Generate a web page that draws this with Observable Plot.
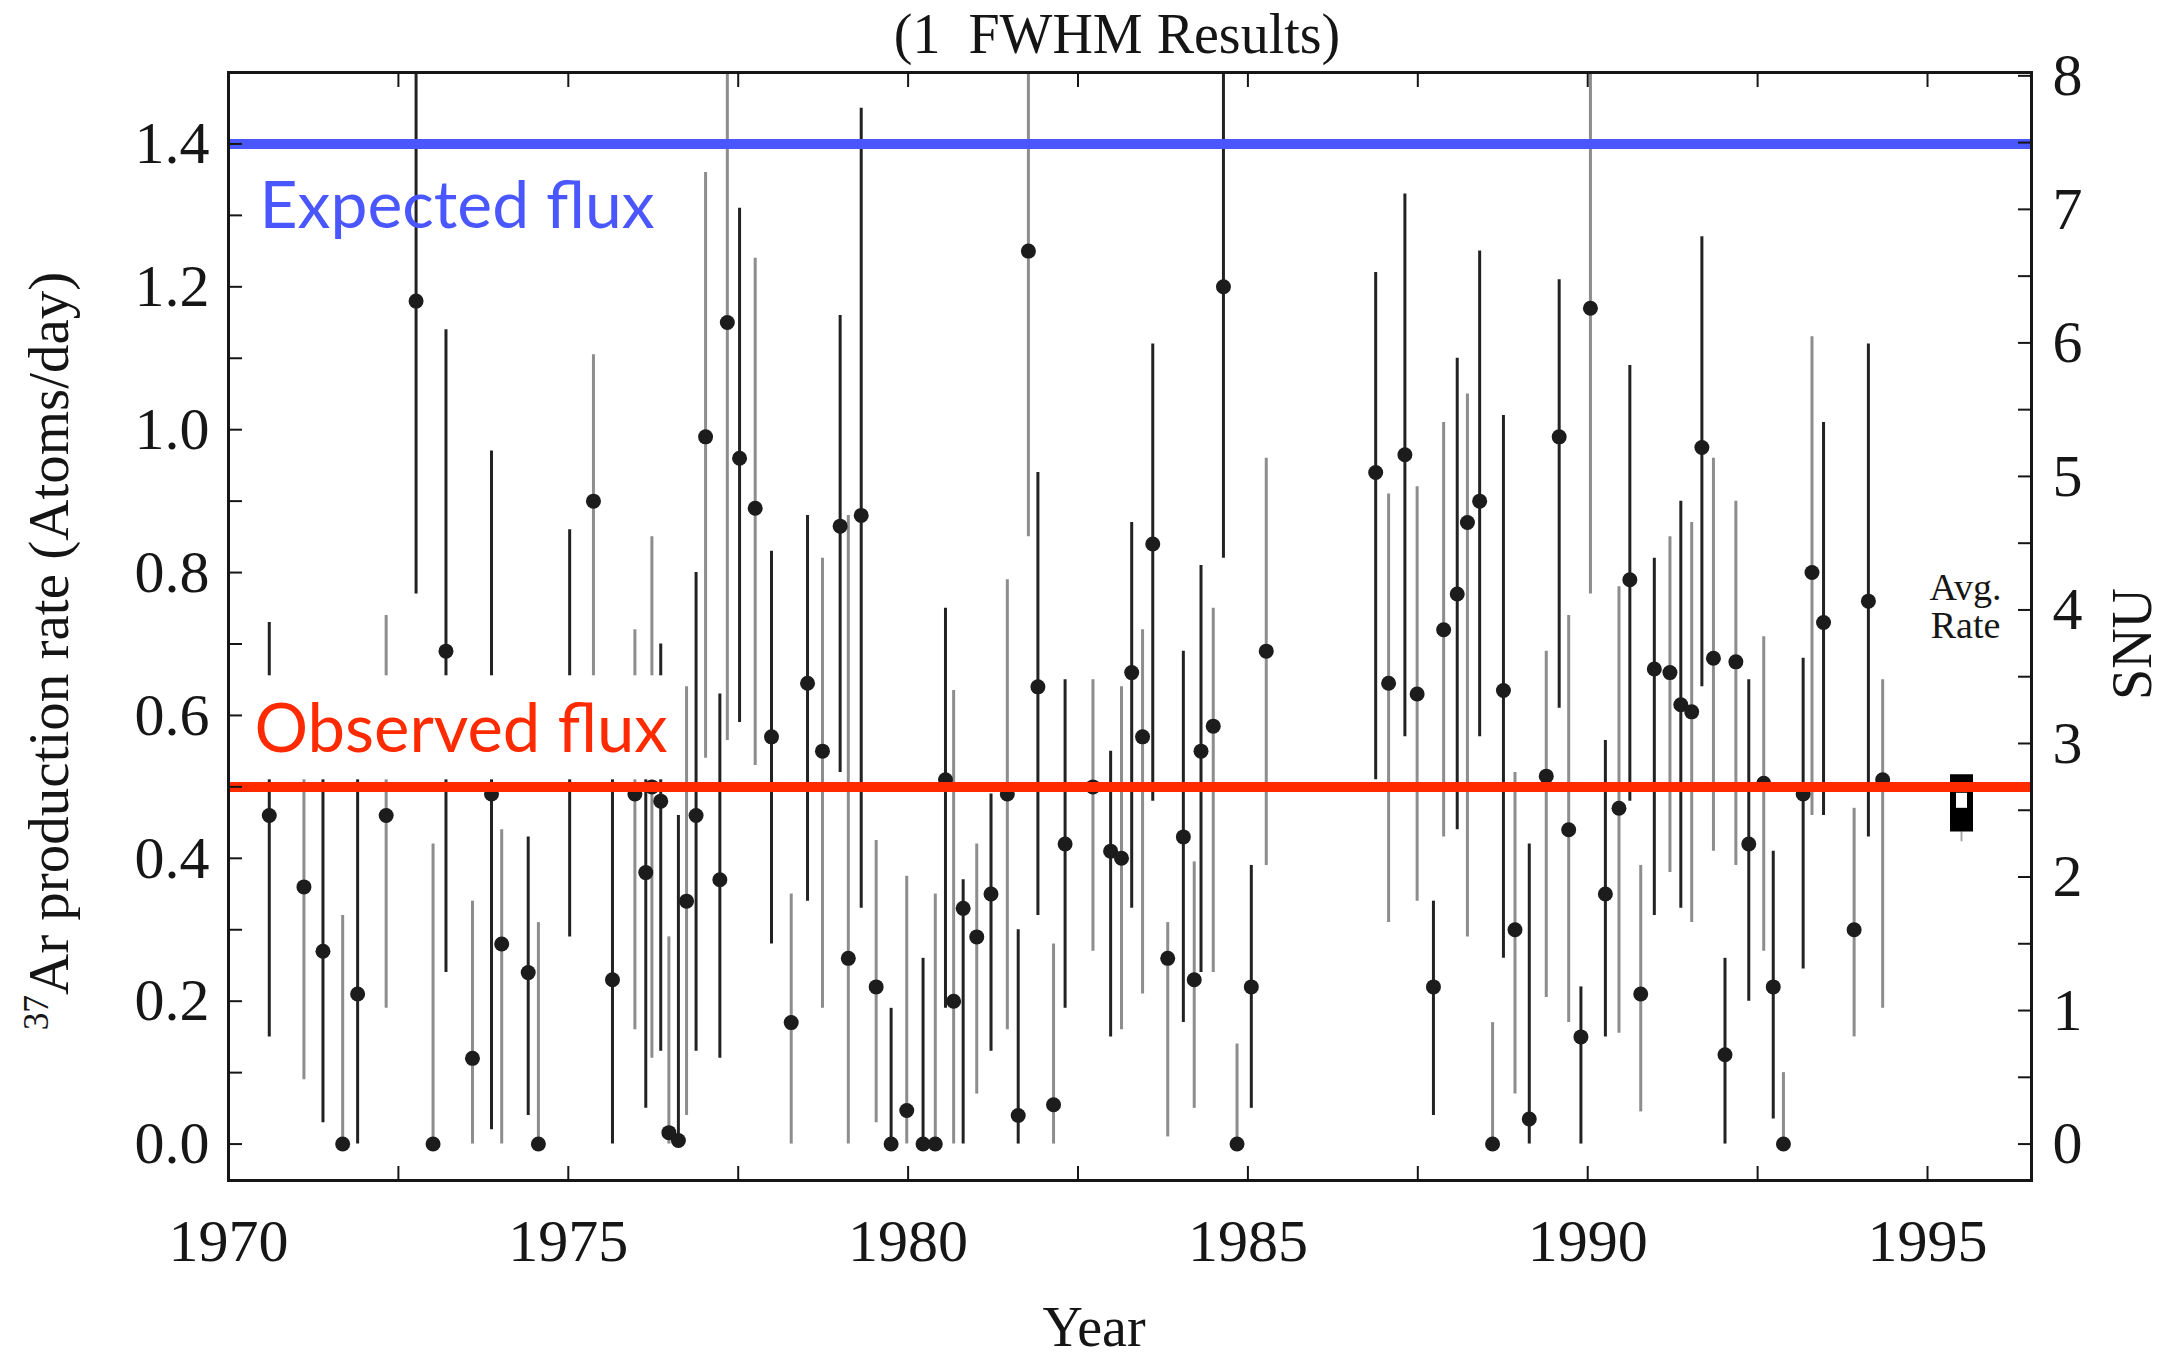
<!DOCTYPE html>
<html>
<head>
<meta charset="utf-8">
<script src="https://cdn.jsdelivr.net/npm/d3@7"></script>
<script src="https://cdn.jsdelivr.net/npm/@observablehq/plot@0.6"></script>
<style>
  html, body { margin: 0; padding: 0; background: #fff; }
  #wrap { position: relative; width: 2171px; height: 1359px; overflow: hidden; background: #fff; }
  #wrap svg { position: absolute; left: 0; top: 0; }
  .lbl { position: absolute; font-family: "Liberation Serif", "Times New Roman", serif; color: #151515; white-space: nowrap; line-height: 1; }
  .rot { transform: translate(-50%, -50%) rotate(-90deg); }
  .ctr { transform: translate(-50%, -50%); }
</style>
</head>
<body>
<div id="wrap"></div>
<script>
// ---- Data (Homestake 37Ar production rate, 1 FWHM results) ----
const years = [1970.60,1971.11,1971.39,1971.68,1971.90,1972.32,1972.76,1973.01,1973.20,1973.59,
  1973.87,1974.02,1974.41,1974.56,1975.02,1975.37,1975.65,1975.98,1976.14,1976.23,
  1976.36,1976.48,1976.62,1976.74,1976.88,1977.02,1977.23,1977.34,1977.52,1977.75,
  1977.99,1978.28,1978.52,1978.74,1979.00,1979.12,1979.31,1979.53,1979.75,1979.98,
  1980.22,1980.40,1980.55,1980.67,1980.81,1981.01,1981.22,1981.46,1981.62,1981.77,
  1981.91,1982.14,1982.31,1982.72,1982.98,1983.14,1983.29,1983.45,1983.60,1983.82,
  1984.05,1984.21,1984.31,1984.49,1984.64,1984.84,1985.05,1985.27,1986.88,1987.07,
  1987.31,1987.49,1987.73,1987.88,1988.08,1988.23,1988.41,1988.60,1988.76,1988.93,
  1989.14,1989.39,1989.58,1989.72,1989.90,1990.04,1990.26,1990.46,1990.62,1990.78,
  1990.98,1991.21,1991.37,1991.53,1991.68,1991.85,1992.02,1992.18,1992.37,1992.59,
  1992.73,1992.88,1993.17,1993.30,1993.47,1993.92,1994.13,1994.34];

const rates = [0.46,0.36,0.27,0,0.21,0.46,1.18,0,0.69,0.12,
  0.49,0.28,0.24,0,0.58,0.90,0.23,0.49,0.38,0.50,
  0.48,0.016,0.005,0.34,0.46,0.99,0.37,1.15,0.96,0.89,
  0.57,0.17,0.645,0.55,0.865,0.26,0.88,0.22,0,0.047,
  0,0,0.51,0.20,0.33,0.29,0.35,0.49,0.04,1.25,
  0.64,0.055,0.42,0.50,0.41,0.40,0.66,0.57,0.84,0.26,
  0.43,0.23,0.55,0.585,1.20,0,0.22,0.69,0.94,0.645,
  0.965,0.63,0.22,0.72,0.77,0.87,0.90,0,0.635,0.30,
  0.035,0.515,0.99,0.44,0.15,1.17,0.35,0.47,0.79,0.21,
  0.665,0.66,0.615,0.605,0.975,0.68,0.125,0.675,0.42,0.505,
  0.22,0,0.49,0.80,0.73,0.30,0.76,0.51];

const errLow = [0.15,0.09,0.03,0,0,0.19,0.77,0,0.24,0,
  0.02,0,0.04,0,0.29,0.62,0,0.16,0.05,0.12,
  0.13,0,0,0.04,0.13,0.54,0.12,0.565,0.59,0.53,
  0.28,0,0.34,0.19,0.52,0,0.33,0.03,0,0,
  0,0,0.19,0,0,0.07,0.13,0.16,0,0.85,
  0.32,0,0.19,0.27,0.15,0.16,0.33,0.21,0.48,0.01,
  0.17,0.05,0.24,0.24,0.82,0,0.05,0.39,0.51,0.31,
  0.57,0.34,0.04,0.43,0.44,0.29,0.57,0,0.26,0.07,
  0,0.205,0.61,0.17,0,0.77,0.15,0.155,0.48,0.045,
  0.32,0.38,0.33,0.31,0.64,0.41,0,0.39,0.20,0.27,
  0.035,0,0.245,0.46,0.46,0.15,0.43,0.19];

const errHigh = [0.73,0.63,0.58,0.32,0.53,0.74,1.5,0.42,1.14,0.34,
  0.97,0.44,0.43,0.31,0.86,1.105,0.60,0.72,0.64,0.85,
  0.70,0.29,0.46,0.64,0.80,1.36,0.63,1.5,1.31,1.24,
  0.83,0.35,0.88,0.82,1.16,0.88,1.45,0.425,0.19,0.375,
  0.26,0.35,0.75,0.635,0.37,0.42,0.49,0.79,0.30,1.5,
  0.94,0.28,0.65,0.65,0.55,0.64,0.87,0.72,1.12,0.31,
  0.69,0.395,0.81,0.75,1.5,0.14,0.39,0.96,1.22,0.91,
  1.33,0.92,0.34,1.01,1.10,1.05,1.25,0.17,1.02,0.52,
  0.42,0.69,1.21,0.74,0.22,1.5,0.565,0.78,1.09,0.39,
  0.82,0.85,0.90,0.87,1.27,0.96,0.26,0.90,0.65,0.71,
  0.41,0.10,0.68,1.13,1.01,0.47,1.12,0.65];

const expectedFlux = 1.4;   // atoms/day
const observedFlux = 0.5;   // atoms/day
const avgYear = 1995.5;
const avgBox = [0.437, 0.517];
const avgInner = [0.470, 0.491];
const avgWhiskerLow = 0.423;

const xTicks = [1970, 1975, 1980, 1985, 1990, 1995];
const xMinorTicks = [1970, 1972.5, 1975, 1977.5, 1980, 1982.5, 1985, 1987.5, 1990, 1992.5, 1995];
const yTicks = [0, 0.2, 0.4, 0.6, 0.8, 1.0, 1.2, 1.4];
const yMinorTicks = [0, 0.1, 0.2, 0.3, 0.4, 0.5, 0.6, 0.7, 0.8, 0.9, 1.0, 1.1, 1.2, 1.3, 1.4];
const snuTicks = [0, 1, 2, 3, 4, 5, 6, 7, 8];
const snuMinorTicks = [0, 0.5, 1, 1.5, 2, 2.5, 3, 3.5, 4, 4.5, 5, 5.5, 6, 6.5, 7, 7.5, 8];
const SNU_PER_RATE = 5.35;

// ---- Build ----
const runs = years.map((year, i) => ({year, rate: rates[i], lo: errLow[i], hi: errHigh[i], i}));
const avg = [{year: avgYear, boxLo: avgBox[0], boxHi: avgBox[1], inLo: avgInner[0], inHi: avgInner[1], wLo: avgWhiskerLow}];

const BLUE = "#4a57ff", RED = "#ff2a00", INK = "#161616";
const serif = '"Liberation Serif", "Times New Roman", serif';
const noLabel = () => "";

const chart = Plot.plot({
  width: 2171,
  height: 1359,
  marginTop: 72,
  marginRight: 140,
  marginBottom: 179,
  marginLeft: 228,
  x: {domain: [1970, 1996.53]},
  y: {domain: [-0.051, 1.5]},
  style: {fontFamily: serif, fontSize: "60px", color: INK, background: "transparent", overflow: "visible"},
  marks: [
    Plot.ruleX(runs, {x: "year", y1: "lo", y2: "hi", stroke: d => d.i % 2 ? "#8d8d8d" : "#222", strokeWidth: 3}),
    Plot.dot(runs, {x: "year", y: "rate", r: 7.5, fill: "#1c1c1c", stroke: "none"}),
    // average rate marker
    Plot.ruleX(avg, {x: "year", y1: "wLo", y2: "boxLo", stroke: "#aaa", strokeWidth: 2}),
    Plot.ruleX(avg, {x: "year", y1: "boxLo", y2: "boxHi", stroke: "#000", strokeWidth: 23}),
    Plot.ruleX(avg, {x: "year", y1: "inLo", y2: "inHi", stroke: "#fff", strokeWidth: 11}),
    Plot.text(avg, {x: "year", y: "boxHi", text: () => "Avg.\nRate", lineHeight: 1, dy: -168, dx: 4,
      fontFamily: serif, fontSize: 38, fill: INK}),
    // flux annotations
    Plot.text([expectedFlux], {y: d => d, text: () => "Expected flux", frameAnchor: "left", textAnchor: "start",
      dx: 31, dy: 63, fill: BLUE, fontFamily: "Lato", fontSize: 66}),
    Plot.text([observedFlux], {y: d => d, text: () => "Observed flux", frameAnchor: "left", textAnchor: "start",
      dx: 26, dy: -56, fill: RED, fontFamily: "Lato", fontSize: 67}),
    Plot.ruleY([expectedFlux], {stroke: BLUE, strokeWidth: 10}),
    Plot.ruleY([observedFlux], {stroke: RED, strokeWidth: 10}),
    // frame & axes
    Plot.frame({stroke: INK, strokeWidth: 3}),
    Plot.axisX(xTicks, {anchor: "bottom", tickSize: 0, tickPadding: 38, tickFormat: d3.format("d"), label: null}),
    Plot.axisX(xMinorTicks, {anchor: "bottom", tickSize: -14, strokeWidth: 2, tickFormat: noLabel, label: null}),
    Plot.axisX(xMinorTicks, {anchor: "top", tickSize: -14, strokeWidth: 2, tickFormat: noLabel, label: null}),
    Plot.axisY(yTicks, {anchor: "left", tickSize: 0, tickPadding: 19, tickFormat: d3.format(".1f"), label: null}),
    Plot.axisY(yMinorTicks, {anchor: "left", tickSize: -14, strokeWidth: 2, tickFormat: noLabel, label: null}),
    Plot.axisY(snuTicks.map(s => s / SNU_PER_RATE), {anchor: "right", tickSize: 0, tickPadding: 21,
      tickFormat: d => String(Math.round(d * SNU_PER_RATE)), label: null}),
    Plot.axisY(snuMinorTicks.map(s => s / SNU_PER_RATE), {anchor: "right", tickSize: -14, strokeWidth: 2, tickFormat: noLabel, label: null})
  ]
});

const wrap = document.getElementById("wrap");
wrap.appendChild(chart);

// white box behind the "Observed flux" label, sized from the rendered text
const obs = Array.from(chart.querySelectorAll("text")).find(t => t.textContent.trim() === "Observed flux");
if (obs) {
  const bb = obs.getBBox();
  const rect = document.createElementNS("http://www.w3.org/2000/svg", "rect");
  rect.setAttribute("x", bb.x - 28);
  rect.setAttribute("y", bb.y - 11);
  rect.setAttribute("width", bb.width + 40);
  rect.setAttribute("height", bb.height + 24);
  rect.setAttribute("fill", "#fff");
  const tf = obs.getAttribute("transform");
  if (tf) rect.setAttribute("transform", tf);
  obs.parentNode.insertBefore(rect, obs);
}

// titles
function addLabel(html, cx, cy, size, cls) {
  const d = document.createElement("div");
  d.className = "lbl " + cls;
  d.style.left = cx + "px";
  d.style.top = cy + "px";
  d.style.fontSize = size + "px";
  d.innerHTML = html;
  wrap.appendChild(d);
}
addLabel("(1&nbsp; FWHM Results)", 1117, 34, 56, "ctr");
addLabel("Year", 1094, 1327, 56, "ctr");
addLabel('<sup style="font-size:0.62em">37</sup>Ar production rate (Atoms/day)', 48, 651, 57, "rot");
addLabel("SNU", 2132, 644, 56, "rot");
</script>
</body>
</html>
